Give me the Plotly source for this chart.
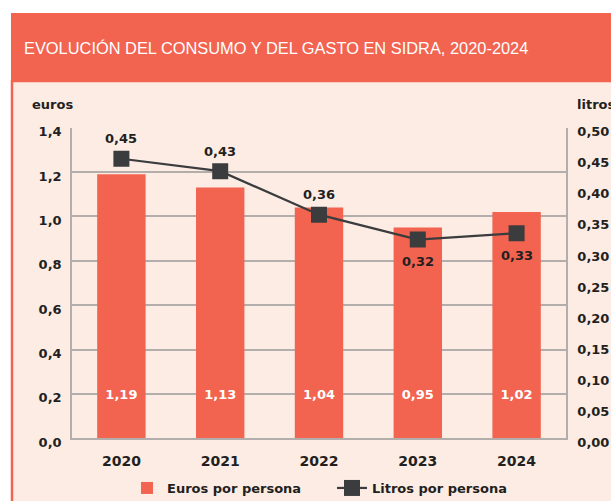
import plotly.graph_objects as go

years = ["2020", "2021", "2022", "2023", "2024"]
euros = [1.19, 1.13, 1.04, 0.95, 1.02]
litros = [0.45, 0.43, 0.36, 0.32, 0.33]
litros_above = [True, True, True, False, False]

RED = "#F26350"
PINK = "#FDECE4"
DARK = "#3A3C3E"
GRID = "#B3AEAC"
TXT = "#231F20"
FONT = "DejaVu Sans"

W, H = 611, 501
PL, PR, PT, PB = 72, 566, 127.7, 438.3  # plot area in window pixels


def fx(x):
    return x / W


def fy(y):
    return (H - y) / H


def fmt(v):
    return f"{v:.2f}".replace(".", ",")


fig = go.Figure()
fig.add_trace(go.Bar(
    x=years, y=euros, name="Euros por persona", marker_color=RED,
    marker_line_width=0, yaxis="y", hoverinfo="skip"
))
fig.add_trace(go.Scatter(
    x=years, y=[0.19] * len(years), mode="text", yaxis="y", showlegend=False,
    text=[fmt(v) for v in euros], textposition="middle center",
    textfont=dict(family=FONT, size=13, color="white", weight="bold"), hoverinfo="skip"
))
fig.add_trace(go.Scatter(
    x=years, y=litros, name="Litros por persona", yaxis="y2",
    mode="lines+markers", line=dict(color=DARK, width=2.2),
    marker=dict(symbol="square", size=16, color=DARK),
    hoverinfo="skip"
))

shapes = [
    dict(type="rect", xref="paper", yref="paper", x0=fx(12), x1=fx(625), y0=fy(515), y1=fy(81),
         fillcolor=PINK, line=dict(color=RED, width=2.5), layer="below"),
    dict(type="rect", xref="paper", yref="paper", x0=fx(11), x1=fx(625), y0=fy(81), y1=fy(13),
         fillcolor=RED, line=dict(width=0), layer="below"),
]

annotations = [
    dict(x=fx(22), y=fy(48), xref="paper", yref="paper", xanchor="left", yanchor="middle",
         text="EVOLUCIÓN DEL CONSUMO Y DEL GASTO EN SIDRA, 2020-2024", showarrow=False,
         font=dict(family="Liberation Sans", size=16.4, color="white")),
    dict(x=fx(53), y=fy(104), xref="paper", yref="paper", xanchor="center", yanchor="middle",
         text="euros", showarrow=False,
         font=dict(family=FONT, size=13, color=TXT, weight="bold")),
    dict(x=fx(575), y=fy(104), xref="paper", yref="paper", xanchor="left", yanchor="middle",
         text="litros", showarrow=False,
         font=dict(family=FONT, size=13, color=TXT, weight="bold")),
]
for i, (v, up) in enumerate(zip(litros, litros_above)):
    annotations.append(dict(
        x=i, y=v, xref="x", yref="y2", text=fmt(v), showarrow=False,
        yshift=20 if up else -22, xanchor="center", yanchor="middle",
        font=dict(family=FONT, size=13, color=TXT, weight="bold")))

fig.update_layout(
    width=W, height=H, margin=dict(l=0, r=0, t=0, b=0, pad=0, autoexpand=False),
    paper_bgcolor="white", plot_bgcolor="rgba(0,0,0,0)",
    separators=",.", shapes=shapes, annotations=annotations, bargap=0.51, showlegend=True,
    font=dict(family=FONT, color=TXT),
    xaxis=dict(type="category", range=[-0.5, len(years) - 0.5], domain=[fx(PL), fx(PR)], anchor="y",
               showgrid=False, showline=True, linecolor=GRID, linewidth=2,
               ticks="outside", ticklen=9, tickcolor="rgba(0,0,0,0)", automargin=False,
               tickfont=dict(family=FONT, size=14, color=TXT, weight="bold"),
               fixedrange=True),
    yaxis=dict(range=[0, 1.4], dtick=0.2, tickformat=".1f", domain=[fy(PB), fy(PT)], anchor="x",
               showgrid=True, gridcolor=GRID, gridwidth=1.5,
               showline=True, linecolor=GRID, linewidth=1.5, zeroline=False,
               ticks="", ticklabelstandoff=6, ticklabelshift=4, automargin=False,
               tickfont=dict(family=FONT, size=13, color=TXT, weight="bold")),
    yaxis2=dict(range=[0, 0.5], dtick=0.05, tickformat=".2f", overlaying="y", side="right", anchor="x",
                showgrid=False, showline=True, linecolor=GRID, linewidth=1.5, zeroline=False,
                ticks="", ticklabelstandoff=7, ticklabelshift=4, automargin=False,
                tickfont=dict(family=FONT, size=13, color=TXT, weight="bold")),
    legend=dict(orientation="h", x=fx(332), xanchor="center", y=fy(488), yanchor="middle",
                bgcolor="rgba(0,0,0,0)", font=dict(family=FONT, size=13, color=TXT, weight="bold"),
                itemwidth=30, entrywidth=160, traceorder="normal"),
)

fig.write_html(
    "out.html",
    config={"displayModeBar": False},
    post_script="document.body.style.margin='0';document.body.style.overflow='hidden';",
)
